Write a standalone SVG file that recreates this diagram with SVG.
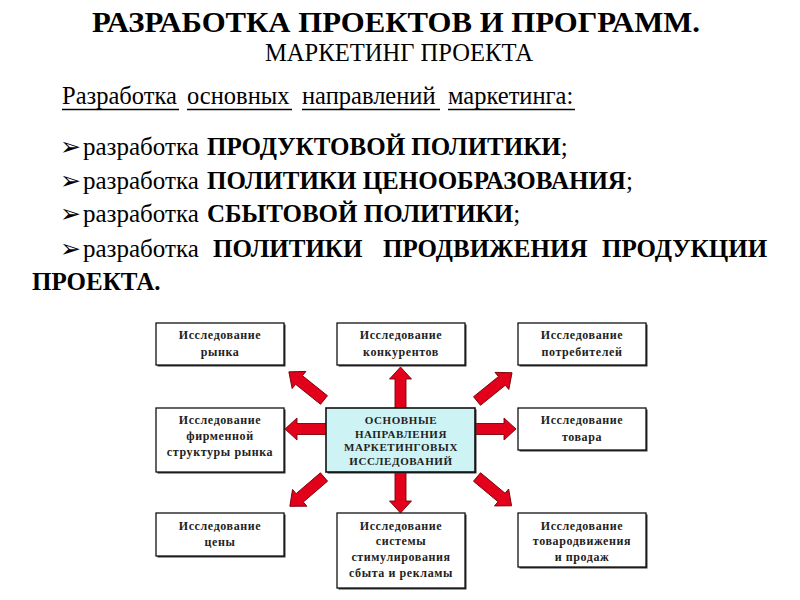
<svg xmlns="http://www.w3.org/2000/svg" xmlns:xlink="http://www.w3.org/1999/xlink" width="800" height="600" viewBox="0 0 800 600">
<style>
.title{font-size:29.5px;font-weight:bold}
.sub{font-size:24.5px}
.head{font-size:24.5px}
.reg{font-size:25px}
.bold{font-weight:bold}
.bul{font-family:"DejaVu Sans",sans-serif;font-size:25px;fill:#000}
.box{fill:#fff;stroke:#111;stroke-width:1.3}
.shadow{fill:#333}
.cbox{fill:#cdf3f5;stroke:#111;stroke-width:1.6}
.bt{font-size:12px;font-weight:bold;letter-spacing:0.6px;fill:#222;text-anchor:middle}
.ct{font-size:11px;font-weight:bold;letter-spacing:0.6px;fill:#222;text-anchor:middle}
.arrow{fill:#e2001a;stroke:#7a0008;stroke-width:0.9;stroke-linejoin:miter}
.ul{stroke:#000;stroke-width:1.4}
</style>
<defs>
<path id="arrS" d="M0,-5.5 H29 V-11 L41,0 L29,11 V5.5 H0 Z"/>
<path id="arrD" d="M0,-5.5 H32 V-11 L45,0 L32,11 V5.5 H0 Z"/>
</defs>

<g id="header" font-family="'Liberation Serif', 'Times New Roman', serif" fill="#000">
<text class="title" x="92" y="32" textLength="608" lengthAdjust="spacingAndGlyphs">РАЗРАБОТКА ПРОЕКТОВ И ПРОГРАММ.</text>
<text class="sub" x="265" y="61" textLength="268" lengthAdjust="spacingAndGlyphs">МАРКЕТИНГ ПРОЕКТА</text>
<text class="head" y="104"><tspan x="62">Разработка</tspan><tspan x="187">основных</tspan><tspan x="302">направлений</tspan><tspan x="448">маркетинга:</tspan></text>
<line class="ul" x1="62" y1="109.5" x2="179" y2="109.5"/>
<line class="ul" x1="187" y1="109.5" x2="292" y2="109.5"/>
<line class="ul" x1="302" y1="109.5" x2="440" y2="109.5"/>
<line class="ul" x1="448" y1="109.5" x2="575" y2="109.5"/>

<text class="bul" x="60" y="155">➢</text>
<text class="reg" x="83" y="155">разработка <tspan x="207" class="bold">ПРОДУКТОВОЙ ПОЛИТИКИ</tspan>;</text>
<text class="bul" x="60" y="189">➢</text>
<text class="reg" x="83" y="189">разработка <tspan x="207" class="bold">ПОЛИТИКИ ЦЕНООБРАЗОВАНИЯ</tspan>;</text>
<text class="bul" x="60" y="222">➢</text>
<text class="reg" x="83" y="222">разработка <tspan x="207" class="bold">СБЫТОВОЙ ПОЛИТИКИ</tspan>;</text>
<text class="bul" x="60" y="257">➢</text>
<text class="reg" x="83" y="257">разработка <tspan x="213" class="bold">ПОЛИТИКИ</tspan><tspan x="383" class="bold">ПРОДВИЖЕНИЯ</tspan><tspan x="602" class="bold">ПРОДУКЦИИ</tspan></text>
<text class="reg bold" x="32" y="290">ПРОЕКТА.</text>
</g>

<g id="connectors">
<use xlink:href="#arrS" class="arrow" transform="translate(400.5,408) rotate(-90)"/>
<use xlink:href="#arrS" class="arrow" transform="translate(400.5,472) rotate(90)"/>
<use xlink:href="#arrS" class="arrow" transform="translate(326,429) rotate(180)"/>
<use xlink:href="#arrS" class="arrow" transform="translate(475,429)"/>
<use xlink:href="#arrD" class="arrow" transform="translate(324,400) rotate(218.7)"/>
<use xlink:href="#arrD" class="arrow" transform="translate(477,401) rotate(-38.9)"/>
<use xlink:href="#arrD" class="arrow" transform="translate(324,477) rotate(139.4)"/>
<use xlink:href="#arrD" class="arrow" transform="translate(477,477) rotate(39.8)"/>
</g>

<g id="nodes" font-family="'Liberation Serif', 'Times New Roman', serif">
<g id="n-center">
<rect class="shadow" x="327.5" y="409.5" width="149" height="64"/>
<rect class="cbox" x="326" y="408" width="149" height="64"/>
<text class="ct" x="401" y="424">ОСНОВНЫЕ</text>
<text class="ct" x="401" y="437.5">НАПРАВЛЕНИЯ</text>
<text class="ct" x="401" y="451">МАРКЕТИНГОВЫХ</text>
<text class="ct" x="401" y="464.5">ИССЛЕДОВАНИЙ</text>
</g>

<g id="n-market">
<rect class="shadow" x="157.5" y="324.5" width="128" height="42"/>
<rect class="box" x="156" y="323" width="128" height="42"/>
<text class="bt" x="220" y="339">Исследование</text>
<text class="bt" x="220" y="356">рынка</text>
</g>

<g id="n-competitors">
<rect class="shadow" x="338.5" y="324.5" width="128" height="42"/>
<rect class="box" x="337" y="323" width="128" height="42"/>
<text class="bt" x="401" y="339">Исследование</text>
<text class="bt" x="401" y="356">конкурентов</text>
</g>

<g id="n-consumers">
<rect class="shadow" x="519.5" y="324.5" width="128" height="42"/>
<rect class="box" x="518" y="323" width="128" height="42"/>
<text class="bt" x="582" y="339">Исследование</text>
<text class="bt" x="582" y="356">потребителей</text>
</g>

<g id="n-structure">
<rect class="shadow" x="157.5" y="409.5" width="128" height="64"/>
<rect class="box" x="156" y="408" width="128" height="64"/>
<text class="bt" x="220" y="424">Исследование</text>
<text class="bt" x="220" y="440">фирменной</text>
<text class="bt" x="220" y="456">структуры рынка</text>
</g>

<g id="n-product">
<rect class="shadow" x="519.5" y="409.5" width="128" height="42"/>
<rect class="box" x="518" y="408" width="128" height="42"/>
<text class="bt" x="582" y="424">Исследование</text>
<text class="bt" x="582" y="441">товара</text>
</g>

<g id="n-price">
<rect class="shadow" x="157.5" y="514.5" width="128" height="43"/>
<rect class="box" x="156" y="513" width="128" height="43"/>
<text class="bt" x="220" y="530">Исследование</text>
<text class="bt" x="220" y="546">цены</text>
</g>

<g id="n-promotion">
<rect class="shadow" x="338.5" y="514.5" width="128" height="75"/>
<rect class="box" x="337" y="513" width="128" height="75"/>
<text class="bt" x="401" y="530">Исследование</text>
<text class="bt" x="401" y="545">системы</text>
<text class="bt" x="401" y="561">стимулирования</text>
<text class="bt" x="401" y="577">сбыта и рекламы</text>
</g>

<g id="n-distribution">
<rect class="shadow" x="519.5" y="514.5" width="128" height="54"/>
<rect class="box" x="518" y="513" width="128" height="54"/>
<text class="bt" x="582" y="530">Исследование</text>
<text class="bt" x="582" y="545">товародвижения</text>
<text class="bt" x="582" y="561">и продаж</text>
</g>
</g>
</svg>
